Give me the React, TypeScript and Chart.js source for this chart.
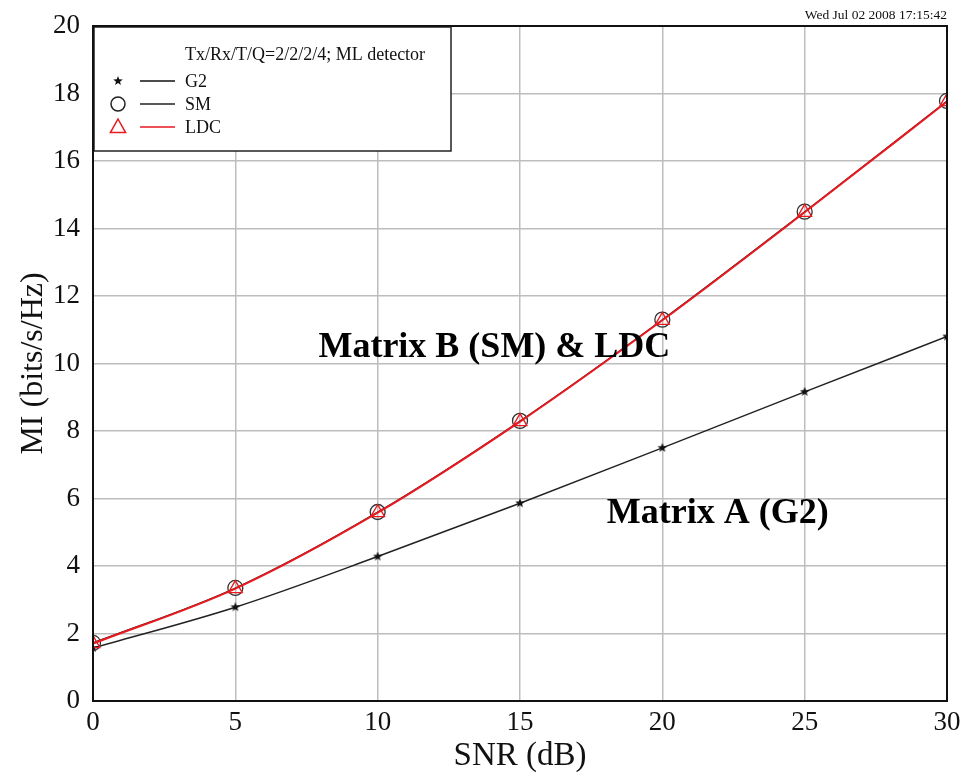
import React, { useEffect, useRef } from "react";
import { Chart, registerables } from "chart.js";

Chart.register(...registerables);

const snrDb = [0, 5, 10, 15, 20, 25, 30];
const g2Mi = [1.57, 2.78, 4.28, 5.86, 7.5, 9.16, 10.8];
const smMi = [1.72, 3.35, 5.6, 8.3, 11.3, 14.5, 17.78];
const ldcMi = [1.7, 3.33, 5.58, 8.28, 11.28, 14.48, 17.76];
const seriesLabels = ["G2", "SM", "LDC"];
const legendTitle = "Tx/Rx/T/Q=2/2/2/4; ML detector";
const timestamp = "Wed Jul 02 2008 17:15:42";
const annotationB = "Matrix B (SM) & LDC";
const annotationA = "Matrix A (G2)";
const xTitle = "SNR (dB)";
const yTitle = "MI (bits/s/Hz)";

const SERIF = "'Liberation Serif', 'Times New Roman', serif";

function makeStar(size: number, color: string): HTMLCanvasElement {
  const c = document.createElement("canvas");
  c.width = size;
  c.height = size;
  const g = c.getContext("2d")!;
  const cx = size / 2, cy = size / 2, R = size / 2, r = R * 0.42;
  g.beginPath();
  for (let i = 0; i < 10; i++) {
    const rad = i % 2 === 0 ? R : r;
    const a = -Math.PI / 2 + (i * Math.PI) / 5;
    const px = cx + rad * Math.cos(a);
    const py = cy + rad * Math.sin(a);
    if (i === 0) g.moveTo(px, py);
    else g.lineTo(px, py);
  }
  g.closePath();
  g.fillStyle = color;
  g.fill();
  return c;
}

function drawCircle(ctx: CanvasRenderingContext2D, x: number, y: number, r: number, color: string) {
  ctx.beginPath();
  ctx.arc(x, y, r, 0, Math.PI * 2);
  ctx.strokeStyle = color;
  ctx.lineWidth = 1.5;
  ctx.stroke();
}

function drawTriangle(ctx: CanvasRenderingContext2D, x: number, y: number, r: number, color: string) {
  ctx.beginPath();
  ctx.moveTo(x, y - r);
  ctx.lineTo(x + r * 0.95, y + r * 0.7);
  ctx.lineTo(x - r * 0.95, y + r * 0.7);
  ctx.closePath();
  ctx.strokeStyle = color;
  ctx.lineWidth = 1.5;
  ctx.stroke();
}

export default function App() {
  const ref = useRef<HTMLCanvasElement | null>(null);

  useEffect(() => {
    if (!ref.current) return;
    const star = makeStar(10, "#111");
    const legendStar = makeStar(10, "#111");

    const decor = {
      id: "decor",
      afterDatasetsDraw(chart: any) {
        const { ctx, chartArea, scales } = chart;
        const { left, top, right, bottom } = chartArea;
        ctx.save();
        // legend box
        const bx = left + 1, by = top + 1, bw = 357, bh = 124;
        ctx.fillStyle = "#fff";
        ctx.fillRect(bx, by, bw, bh);
        ctx.strokeStyle = "#222";
        ctx.lineWidth = 1.5;
        ctx.strokeRect(bx, by, bw, bh);
        ctx.fillStyle = "#111";
        ctx.font = `18px ${SERIF}`;
        ctx.textBaseline = "alphabetic";
        ctx.textAlign = "left";
        ctx.fillText(legendTitle, bx + 91, by + 33);
        const rows = [
          { y: by + 54, color: "#111", label: seriesLabels[0], kind: "star" },
          { y: by + 77, color: "#222", label: seriesLabels[1], kind: "circle" },
          { y: by + 100, color: "#e8191f", label: seriesLabels[2], kind: "tri" },
        ];
        rows.forEach((row) => {
          const mx = bx + 24;
          if (row.kind === "star") ctx.drawImage(legendStar, mx - 5, row.y - 5);
          else if (row.kind === "circle") drawCircle(ctx, mx, row.y, 7, row.color);
          else drawTriangle(ctx, mx, row.y, 8, row.color);
          ctx.beginPath();
          ctx.moveTo(bx + 46, row.y);
          ctx.lineTo(bx + 81, row.y);
          ctx.strokeStyle = row.color;
          ctx.lineWidth = 1.5;
          ctx.stroke();
          ctx.fillStyle = "#111";
          ctx.font = `18px ${SERIF}`;
          ctx.fillText(row.label, bx + 91, row.y + 6);
        });

        // annotations
        ctx.fillStyle = "#000";
        ctx.font = `bold 36px ${SERIF}`;
        ctx.textAlign = "center";
        ctx.fillText(annotationB, scales.x.getPixelForValue(14.1), scales.y.getPixelForValue(10.2));
        ctx.textAlign = "left";
        ctx.fillText(annotationA, scales.x.getPixelForValue(18.05), scales.y.getPixelForValue(5.27));

        // frame
        ctx.strokeStyle = "#111";
        ctx.lineWidth = 2;
        ctx.strokeRect(left, top, right - left, bottom - top);

        // timestamp
        ctx.font = `13.5px ${SERIF}`;
        ctx.textAlign = "right";
        ctx.fillStyle = "#111";
        ctx.fillText(timestamp, right, 19);
        ctx.restore();
      },
    };

    const chart = new Chart(ref.current, {
      type: "line",
      data: {
        labels: snrDb,
        datasets: [
          {
            label: seriesLabels[0],
            data: snrDb.map((x, i) => ({ x, y: g2Mi[i] })),
            borderColor: "#222",
            borderWidth: 1.5,
            pointStyle: star as any,
            pointRadius: 5,
            cubicInterpolationMode: "monotone",
            order: 2,
          },
          {
            label: seriesLabels[1],
            data: snrDb.map((x, i) => ({ x, y: smMi[i] })),
            borderColor: "#222",
            borderWidth: 1.2,
            pointStyle: "circle",
            pointRadius: 7.5,
            pointBorderColor: "#333",
            pointBackgroundColor: "rgba(0,0,0,0)",
            pointBorderWidth: 1.3,
            cubicInterpolationMode: "monotone",
            order: 1,
          },
          {
            label: seriesLabels[2],
            data: snrDb.map((x, i) => ({ x, y: ldcMi[i] })),
            borderColor: "#e8191f",
            borderWidth: 2,
            pointStyle: "triangle",
            pointRadius: 8,
            pointBorderColor: "#e8191f",
            pointBackgroundColor: "rgba(0,0,0,0)",
            pointBorderWidth: 1.3,
            cubicInterpolationMode: "monotone",
            order: 0,
          },
        ],
      },
      options: {
        animation: false,
        responsive: false,
        devicePixelRatio: 1,
        layout: { padding: { top: 26, right: 15, left: 0, bottom: 0 } },
        plugins: { legend: { display: false }, tooltip: { enabled: false } },
        scales: {
          x: {
            type: "linear",
            min: 0,
            max: 30,
            afterFit: (s: any) => { s.height = 77; s.paddingLeft = 0; s.paddingRight = 0; },
            ticks: { stepSize: 5, color: "#111", font: { family: SERIF, size: 27 }, padding: 6, maxRotation: 0 },
            grid: { color: "#bdbdbd", lineWidth: 1.5, drawTicks: false },
            border: { display: false },
            title: { display: true, text: xTitle, color: "#111", font: { family: SERIF, size: 33 }, padding: { top: 0, bottom: 2 } },
          },
          y: {
            min: 0,
            max: 20,
            afterFit: (s: any) => { s.width = 93; s.paddingTop = 0; s.paddingBottom = 0; },
            ticks: { stepSize: 2, color: "#111", font: { family: SERIF, size: 27 }, padding: 13 },
            grid: { color: "#bdbdbd", lineWidth: 1.5, drawTicks: false },
            border: { display: false },
            title: { display: true, text: yTitle, color: "#111", font: { family: SERIF, size: 32 }, padding: { top: 14, bottom: 14 } },
          },
        },
      },
      plugins: [decor],
    } as any);
    return () => chart.destroy();
  }, []);

  return (
    <div style={{ position: "fixed", left: 0, top: 0, width: 962, height: 778, background: "#fff" }}>
      <canvas ref={ref} width={962} height={778} />
    </div>
  );
}
